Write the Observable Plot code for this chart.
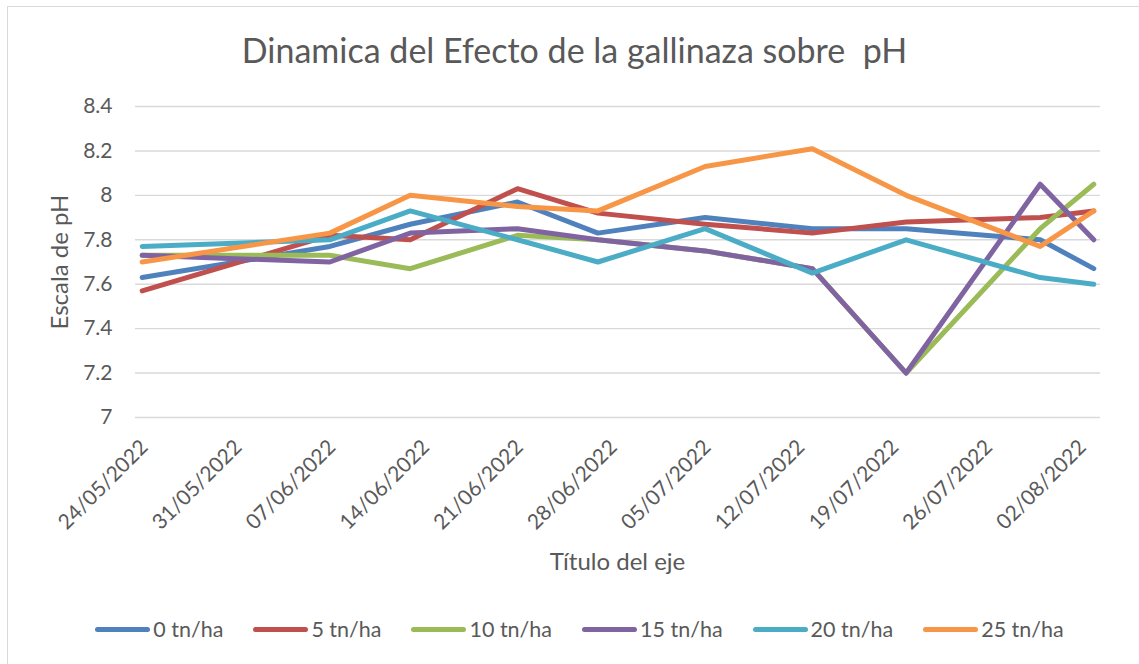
<!DOCTYPE html>
<html>
<head>
<meta charset="utf-8">
<script src="https://cdn.jsdelivr.net/npm/d3@7"></script>
<script src="https://cdn.jsdelivr.net/npm/@observablehq/plot@0.6"></script>
<style>
  html, body { margin: 0; padding: 0; background: #fff; }
  #chart { position: relative; width: 1139px; height: 664px; overflow: hidden; font-family: Lato, "Open Sans", sans-serif; color: #595959; }
  #frame { position: absolute; left: 7px; top: 6px; width: 1140px; height: 670px; border: 1.5px solid #D9D9D9; box-sizing: border-box; }
  #plot { position: absolute; left: 0; top: 0; }
  #title { position: absolute; left: 0; width: 1149px; top: 29px; text-align: center; font-size: 34px; white-space: pre; }
  #xtitle { position: absolute; left: 135px; width: 965px; top: 546px; text-align: center; font-size: 24px; }
  #ytitle { position: absolute; left: 58px; top: 262px; transform: translate(-50%, -50%) rotate(-90deg); font-size: 24px; white-space: nowrap; }
  #legend { position: absolute; left: 0; width: 1139px; padding-left: 20px; box-sizing: border-box; top: 616px; display: flex; justify-content: center; gap: 30px; font-size: 21.5px; }
  .item { display: flex; align-items: center; gap: 3px; flex-shrink: 0; }
  .swatch { width: 55px; height: 5px; border-radius: 3px; flex-shrink: 0; }
</style>
</head>
<body>
<div id="chart">
  <div id="frame"></div>
  <div id="plot"></div>
  <div id="title">Dinamica del Efecto de la gallinaza sobre  pH</div>
  <div id="ytitle">Escala de pH</div>
  <div id="xtitle">Título del eje</div>
  <div id="legend"></div>
</div>
<script>
// Sampling dates (date axis)
const dates = ["2022-05-24","2022-06-07","2022-06-13","2022-06-21","2022-06-27","2022-07-05","2022-07-13","2022-07-20","2022-07-30","2022-08-03"];
// Series names and colours
const seriesNames = ["0 tn/ha","5 tn/ha","10 tn/ha","15 tn/ha","20 tn/ha","25 tn/ha"];
const seriesColors = ["#4F81BD","#C0504D","#9BBB59","#8064A2","#4BACC6","#F79646"];
// pH values per series
const ph0  = [7.63,7.77,7.87,7.97,7.83,7.90,7.85,7.85,7.80,7.67];
const ph5  = [7.57,7.82,7.80,8.03,7.92,7.87,7.83,7.88,7.90,7.93];
const ph10 = [7.73,7.73,7.67,7.82,7.80,7.75,7.67,7.20,7.85,8.05];
const ph15 = [7.73,7.70,7.83,7.85,7.80,7.75,7.67,7.20,8.05,7.80];
const ph20 = [7.77,7.80,7.93,7.80,7.70,7.85,7.65,7.80,7.63,7.60];
const ph25 = [7.70,7.83,8.00,7.95,7.93,8.13,8.21,8.00,7.77,7.93];
// Axis ticks
const xTickDates = ["2022-05-24","2022-05-31","2022-06-07","2022-06-14","2022-06-21","2022-06-28","2022-07-05","2022-07-12","2022-07-19","2022-07-26","2022-08-02"];
const yTicks = [7, 7.2, 7.4, 7.6, 7.8, 8, 8.2, 8.4];

const allSeries = [ph0, ph5, ph10, ph15, ph20, ph25];
const rows = [];
allSeries.forEach((vals, si) => {
  vals.forEach((v, i) => rows.push({date: new Date(dates[i] + "T00:00:00Z"), value: v, series: seriesNames[si]}));
});
const xTicks = xTickDates.map(d => new Date(d + "T00:00:00Z"));
const fmtDate = d3.utcFormat("%d/%m/%Y");

const chart = Plot.plot({
  width: 1139,
  height: 664,
  marginLeft: 135,
  marginRight: 39,
  marginTop: 106,
  marginBottom: 247,
  style: {fontFamily: "Lato, 'Open Sans', sans-serif", color: "#595959", background: "transparent", overflow: "visible"},
  x: {type: "utc", axis: null, domain: [new Date("2022-05-23T12:00:00Z"), new Date("2022-08-03T12:00:00Z")]},
  y: {domain: [7, 8.4]},
  color: {domain: seriesNames, range: seriesColors},
  marks: [
    Plot.ruleY(yTicks, {stroke: "#D9D9D9", strokeWidth: 1.4, strokeOpacity: 1}),
    Plot.axisY(yTicks, {tickSize: 0, tickPadding: 23, fontSize: 21, fill: "#595959", label: null, tickFormat: d => String(+d.toFixed(1))}),
    Plot.text(xTicks, {x: d => d, frameAnchor: "bottom", dy: 31, dx: 7, rotate: -45, textAnchor: "end", text: d => fmtDate(d), fontSize: 21, fill: "#595959"}),
    ...seriesNames.map(name => Plot.line(rows.filter(r => r.series === name), {
      x: "date", y: "value", stroke: "series", strokeWidth: 5, strokeLinecap: "round", strokeLinejoin: "round"
    }))
  ]
});
document.getElementById("plot").appendChild(chart);

const legend = document.getElementById("legend");
seriesNames.forEach((name, i) => {
  const item = document.createElement("div");
  item.className = "item";
  const sw = document.createElement("div");
  sw.className = "swatch";
  sw.style.background = seriesColors[i];
  const label = document.createElement("span");
  label.textContent = name;
  item.appendChild(sw);
  item.appendChild(label);
  legend.appendChild(item);
});
</script>
</body>
</html>
